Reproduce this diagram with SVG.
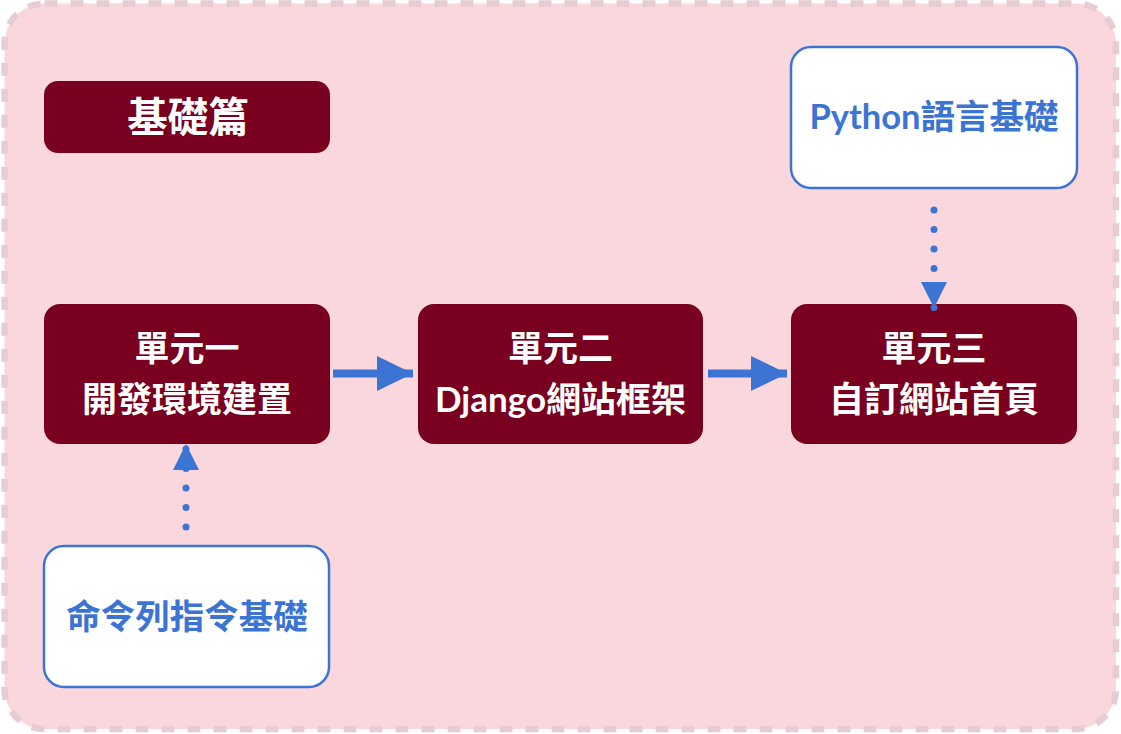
<svg xmlns="http://www.w3.org/2000/svg" width="1121" height="734" viewBox="0 0 1121 734">
<style>
.dark{fill:#7a0020}
.light{fill:#ffffff;stroke:#3c74d4;stroke-width:2.5}
.t{font-family:Lato,"Noto Sans CJK TC","Noto Sans CJK SC",sans-serif;font-weight:bold;text-anchor:middle}
.w{fill:#ffffff;font-size:35px}
.b{fill:#3c74d4;font-size:34.5px}
.conn{fill:none;stroke:#3c74d4}
</style>
<defs>
<marker id="ah" markerUnits="userSpaceOnUse" markerWidth="36" markerHeight="35" viewBox="0 0 36 35" refX="36" refY="17.5" orient="auto"><path d="M0 0 L36 17.5 L0 35 Z" fill="#3c74d4"/></marker>
<marker id="ahs" markerUnits="userSpaceOnUse" markerWidth="26" markerHeight="26" viewBox="0 0 26 26" refX="26" refY="13" orient="auto"><path d="M0 0 L26 13 L0 26 Z" fill="#3c74d4"/></marker>
</defs>
<rect x="4.5" y="3.5" width="1111.5" height="725.5" rx="40" fill="#fad7dc" stroke="#e6cdd3" stroke-width="6.5" stroke-dasharray="13 13"/>
<g id="title">
<rect x="44" y="81" width="286" height="72" rx="14" class="dark"/>
<text x="188" y="132" class="t" fill="#ffffff" font-size="40.5">基礎篇</text>
</g>
<g id="unit1">
<rect x="44" y="304" width="286" height="140" rx="16" class="dark"/>
<text x="187" y="361" class="t w">單元一</text>
<text x="187" y="412" class="t w">開發環境建置</text>
</g>
<g id="unit2">
<rect x="418" y="304" width="285" height="140" rx="16" class="dark"/>
<text x="560.5" y="361" class="t w">單元二</text>
<text x="560.5" y="412" class="t w">Django網站框架</text>
</g>
<g id="unit3">
<rect x="791" y="304" width="286" height="140" rx="16" class="dark"/>
<text x="934" y="361" class="t w">單元三</text>
<text x="934" y="412" class="t w">自訂網站首頁</text>
</g>
<g id="python">
<rect x="791" y="47" width="286" height="141" rx="20" class="light"/>
<text x="934" y="129" class="t b">Python語言基礎</text>
</g>
<g id="cli">
<rect x="44" y="546" width="285" height="141" rx="20" class="light"/>
<text x="187" y="629" class="t b">命令列指令基礎</text>
</g>
<g id="connectors">
<path d="M333 373.5 L413 373.5" class="conn" stroke-width="8" marker-end="url(#ah)"/>
<path d="M708 373.5 L787 373.5" class="conn" stroke-width="8" marker-end="url(#ah)"/>
<path d="M186 527 L186 444" class="conn" stroke-width="7" stroke-linecap="round" stroke-dasharray="0 19.5" marker-end="url(#ahs)"/>
<path d="M934 210 L934 308" class="conn" stroke-width="7" stroke-linecap="round" stroke-dasharray="0 19.5" marker-end="url(#ahs)"/>
</g>
</svg>
